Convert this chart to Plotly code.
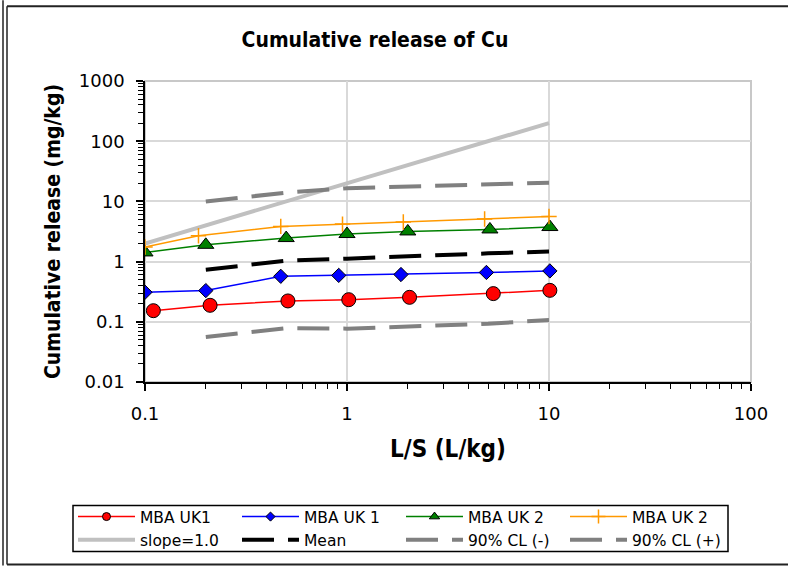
import plotly.graph_objects as go

# ---------------- data ----------------
x_uk1 = [0.11, 0.21, 0.51, 1.02, 2.04, 5.3, 10.1]
y_uk1 = [0.153, 0.188, 0.222, 0.233, 0.255, 0.294, 0.333]

x_uk1b = [0.10, 0.20, 0.47, 0.91, 1.85, 4.9, 10.1]
y_uk1b = [0.31, 0.33, 0.57, 0.59, 0.61, 0.66, 0.70]

x_uk2 = [0.10, 0.20, 0.50, 1.0, 2.0, 5.1, 10.1]
y_uk2 = [1.42, 1.90, 2.46, 2.87, 3.17, 3.42, 3.75]

x_uk2b = [0.10, 0.184, 0.47, 0.95, 1.9, 4.8, 10.0]
y_uk2b = [1.75, 2.69, 3.84, 4.2, 4.54, 5.09, 5.62]

x_slope = [0.1, 10]
y_slope = [2, 200]

x_stat = [0.2, 0.5, 1, 2, 5, 10]
y_mean = [0.73, 1.04, 1.12, 1.24, 1.37, 1.47]
y_cl_minus = [0.056, 0.078, 0.077, 0.084, 0.093, 0.107]
y_cl_plus = [10, 14.0, 16.6, 17.7, 19.6, 20.4]

x_ticks = [0.1, 1, 10, 100]
x_ticktext = ["0.1", "1", "10", "100"]
y_ticks = [0.01, 0.1, 1, 10, 100, 1000]
y_ticktext = ["0.01", "0.1", "1", "10", "100", "1000"]

# ---------------- figure ----------------
W, H = 788, 567
PL, PR, PT, PB = 145, 751, 81, 383  # plot area in pixels

def px_x(px):
    return (px - PL) / (PR - PL)

def px_y(py):
    return (PB - py) / (PB - PT)

BOLD_FONT = "DejaVu Sans Condensed, DejaVu Sans"
REG_FONT = "DejaVu Sans"
DASH = "32px,14px"

fig = go.Figure()

# reference / statistic lines (drawn first, beneath data)
fig.add_trace(go.Scatter(x=x_slope, y=y_slope, mode="lines", name="slope=1.0",
                         line=dict(color="#c0c0c0", width=4), legendrank=5))
fig.add_trace(go.Scatter(x=x_stat, y=y_mean, mode="lines", name="Mean",
                         line=dict(color="#000000", width=4, dash=DASH), legendrank=6))
fig.add_trace(go.Scatter(x=x_stat, y=y_cl_minus, mode="lines", name="90% CL (-)",
                         line=dict(color="#808080", width=4, dash=DASH), legendrank=7))
fig.add_trace(go.Scatter(x=x_stat, y=y_cl_plus, mode="lines", name="90% CL (+)",
                         line=dict(color="#808080", width=4, dash=DASH), legendrank=8))

# data series: (name, x, y, color, symbol, plot size, legend size)
series = [
    ("MBA UK1", x_uk1, y_uk1, "#ff0000", "circle", 14, 8),
    ("MBA UK 1", x_uk1b, y_uk1b, "#0000ff", "diamond", 11, 7),
    ("MBA UK 2", x_uk2, y_uk2, "#008000", "triangle-up", 14, 9),
    ("MBA UK 2 ", x_uk2b, y_uk2b, "#ff9900", "cross-thin", 11, 10),
]
for i, (name, xs, ys, col, sym, size, lsize) in enumerate(series):
    thin = sym.endswith("-thin")
    mline = dict(color=col if thin else "#000000", width=1.5 if thin else 1)
    fig.add_trace(go.Scatter(x=xs, y=ys, mode="lines+markers", name=name,
                             line=dict(color=col, width=1.5),
                             marker=dict(symbol=sym, size=size, color=col, line=mline),
                             showlegend=False))
    # legend-only entry with the smaller legend marker
    fig.add_trace(go.Scatter(x=[None], y=[None], mode="lines+markers", name=name,
                             line=dict(color=col, width=1.5),
                             marker=dict(symbol=sym, size=lsize, color=col, line=mline),
                             legendrank=i + 1, hoverinfo="skip"))

# frame around whole chart
frame_style = dict(color="#222222", width=2)
fig.add_shape(type="line", xref="paper", yref="paper", x0=px_x(3), x1=px_x(3),
              y0=px_y(0), y1=px_y(567), line=dict(color="#222222", width=1.5))
fig.add_shape(type="line", xref="paper", yref="paper", x0=px_x(7), x1=px_x(7),
              y0=px_y(6), y1=px_y(566), line=dict(color="#222222", width=1.5))
fig.add_shape(type="line", xref="paper", yref="paper", x0=px_x(7), x1=px_x(788),
              y0=px_y(6), y1=px_y(6), line=frame_style)
fig.add_shape(type="line", xref="paper", yref="paper", x0=px_x(7), x1=px_x(788),
              y0=px_y(566), y1=px_y(566), line=frame_style)
# gray plot-area border (top / right)
fig.add_shape(type="rect", xref="paper", yref="paper", x0=0, x1=1, y0=0, y1=1,
              line=dict(color="#c8c8c8", width=2), layer="below")
# legend box
fig.add_shape(type="rect", xref="paper", yref="paper", x0=px_x(73), x1=px_x(728),
              y0=px_y(507), y1=px_y(553), line=dict(color="#000000", width=1.5),
              fillcolor="rgba(0,0,0,0)", layer="below")

fig.update_layout(
    width=W, height=H,
    margin=dict(l=PL, r=W - PR, t=PT, b=H - PB, pad=0),
    paper_bgcolor="white", plot_bgcolor="white",
    title=dict(text="<b>Cumulative release of Cu</b>", x=375 / W, xref="container",
               xanchor="center", y=1 - 40 / H, yref="container", yanchor="middle",
               font=dict(family=BOLD_FONT, size=21, color="black")),
    showlegend=True,
    legend=dict(orientation="h", x=px_x(73), y=px_y(500), xanchor="left", yanchor="top",
                entrywidth=92, entrywidthmode="pixels", traceorder="normal",
                borderwidth=0, bgcolor="rgba(0,0,0,0)",
                font=dict(family=REG_FONT, size=15.5, color="black"),
                itemwidth=57),
)

fig.update_xaxes(
    type="log", range=[-1, 2],
    tickvals=x_ticks, ticktext=x_ticktext,
    showline=True, linecolor="black", linewidth=1.5,
    ticks="outside", ticklen=7, tickcolor="black", tickwidth=1.5,
    showgrid=True, gridcolor="#d9d9d9", gridwidth=1.5,
    zeroline=False,
    tickfont=dict(family=REG_FONT, size=18, color="black"),
    ticklabelstandoff=8,
    minor=dict(ticks="outside", ticklen=5, tickcolor="black", tickwidth=1, dtick="D1", showgrid=False),
    title=dict(text="<b>L/S (L/kg)</b>", font=dict(family=BOLD_FONT, size=24, color="black"), standoff=17),
)
fig.update_yaxes(
    type="log", range=[-2, 3],
    tickvals=y_ticks, ticktext=y_ticktext,
    showline=True, linecolor="black", linewidth=1.5,
    ticks="outside", ticklen=7, tickcolor="black", tickwidth=1.5,
    showgrid=True, gridcolor="#d9d9d9", gridwidth=1.5,
    zeroline=False,
    tickfont=dict(family=REG_FONT, size=18, color="black"),
    ticklabelstandoff=8,
    minor=dict(ticks="outside", ticklen=5, tickcolor="black", tickwidth=1, dtick="D1", showgrid=False),
    title=dict(text="<b>Cumulative release (mg/kg)</b>", font=dict(family=BOLD_FONT, size=21, color="black"), standoff=12),
)

fig.write_html("out.html")
